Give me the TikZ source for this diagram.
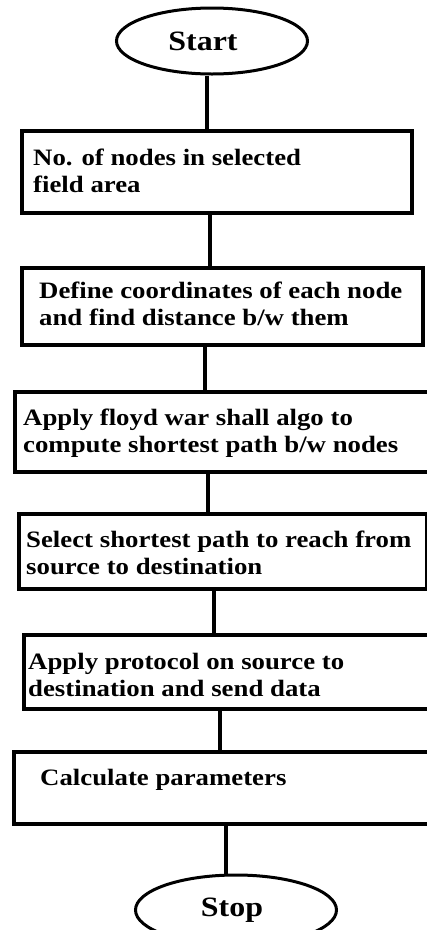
\documentclass[tikz,border=0pt]{standalone}
\usepackage{fontspec}
\setmainfont[FakeStretch=1.14]{Liberation Serif}
\usetikzlibrary{shapes.geometric}
\tikzset{
  x=1pt, y=1pt,
  stepbox/.style={draw, line width=3.6pt, rectangle, inner sep=0pt, anchor=north west},
  termbox/.style={draw, line width=3pt, ellipse, inner sep=0pt,
                  font=\fontsize{28}{30}\selectfont\bfseries},
  steptext/.style={anchor=base west, inner sep=0pt, align=left,
                   font=\fontsize{23.5}{27}\selectfont\bfseries},
  link/.style={line width=3.4pt}
}
\begin{document}
\begin{tikzpicture}
\useasboundingbox (0,0) rectangle (427,-930);

% terminals
\node[termbox, minimum width=191pt, minimum height=66pt] (start) at (212,-41) {Start\hspace*{18pt}};
\node[termbox, minimum width=201pt, minimum height=70pt] (stop) at (236,-910) {Stop\hspace*{8pt}};

% process boxes
\node[stepbox, minimum width=390pt, minimum height=82pt] (b1) at (20,-129) {};
\node[stepbox, minimum width=401pt, minimum height=77pt] (b2) at (20,-266) {};
\node[stepbox, minimum width=430pt, minimum height=80pt] (b3) at (13,-390) {};
\node[stepbox, minimum width=408pt, minimum height=75pt] (b4) at (17,-512) {};
\node[stepbox, minimum width=420pt, minimum height=74pt] (b5) at (22,-633) {};
\node[stepbox, minimum width=430pt, minimum height=72pt] (b6) at (12,-750) {};

% box texts (anchored on the baseline of the last line)
\node[steptext] (t1) at (33,-192) {No. of nodes in selected\\field area};
\node[steptext] (t2) at (39,-325) {Define coordinates of each node\\and find distance b/w them};
\node[steptext] (t3) at (23,-452) {Apply floyd war shall algo to\\compute shortest path b/w nodes};
\node[steptext] (t4) at (26,-574) {Select shortest path to reach from\\source to destination};
\node[steptext] (t5) at (28,-696) {Apply protocol on source to\\destination and send data};
\node[steptext] (t6) at (40,-785) {Calculate parameters};

% connector columns
\coordinate (c0) at (207,0);
\coordinate (c1) at (210,0);
\coordinate (c2) at (205,0);
\coordinate (c3) at (208,0);
\coordinate (c4) at (214,0);
\coordinate (c5) at (220,0);
\coordinate (c6) at (226,0);

\draw[link] (start.south -| c0) -- (b1.north -| c0);
\draw[link] (b1.south -| c1) -- (b2.north -| c1);
\draw[link] (b2.south -| c2) -- (b3.north -| c2);
\draw[link] (b3.south -| c3) -- (b4.north -| c3);
\draw[link] (b4.south -| c4) -- (b5.north -| c4);
\draw[link] (b5.south -| c5) -- (b6.north -| c5);
\draw[link] (b6.south -| c6) -- (stop.north -| c6);
\end{tikzpicture}
\end{document}
